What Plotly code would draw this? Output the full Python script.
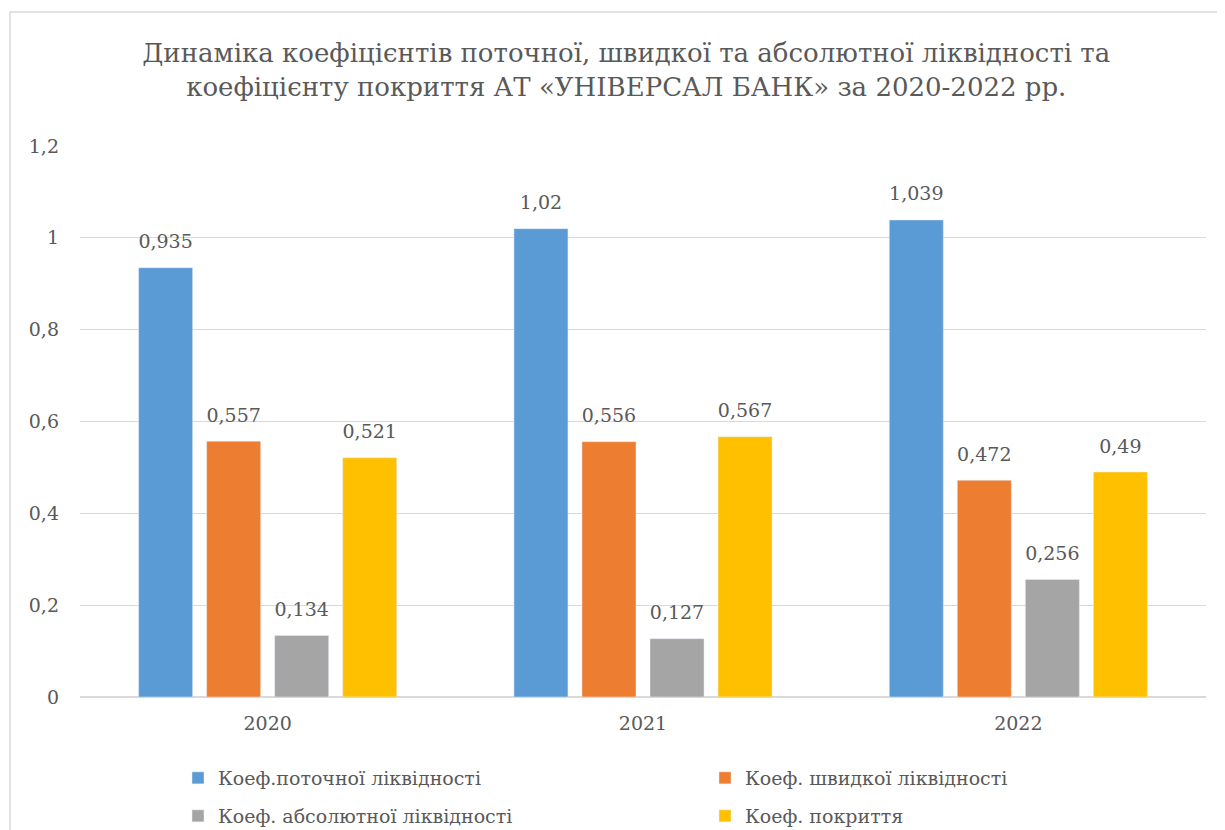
import plotly.graph_objects as go

years = ["2020", "2021", "2022"]
series_names = [
    "Коеф.поточної ліквідності",
    "Коеф. швидкої ліквідності",
    "Коеф. абсолютної ліквідності",
    "Коеф. покриття",
]
current_liq = [0.935, 1.02, 1.039]
quick_liq = [0.557, 0.556, 0.472]
absolute_liq = [0.134, 0.127, 0.256]
coverage = [0.521, 0.567, 0.49]
colors = ["#5B9BD5", "#ED7D31", "#A5A5A5", "#FFC000"]

FONT = "DejaVu Serif"
TXT = "#595959"
all_vals = [current_liq, quick_liq, absolute_liq, coverage]

fig = go.Figure()
for i, (name, vals, col) in enumerate(zip(series_names, all_vals, colors)):
    fig.add_trace(go.Bar(
        x=years, y=vals, name=name, marker_color=col,
        legend="legend" if i < 2 else "legend2",
        offsetgroup=str(i), hoverinfo="skip",
    ))
for i, vals in enumerate(all_vals):
    fig.add_trace(go.Scatter(
        x=years, y=vals, mode="markers+text", showlegend=False,
        marker=dict(size=22, opacity=0),
        text=[str(v).replace(".", ",") for v in vals],
        textposition="top center", cliponaxis=False,
        textfont=dict(family=FONT, size=19, color=TXT),
        offsetgroup=str(i), hoverinfo="skip",
    ))

OFF = 8
W, H = 1225 - OFF, 830 - OFF
L, R, T, B = 80 - OFF, 19, 146 - OFF, 133
pw, ph = W - L - R, H - T - B

def py(pix):
    return (697 - pix) / ph

leg_common = dict(orientation="h", xanchor="left", yanchor="top",
                  entrywidth=482, entrywidthmode="pixels", traceorder="normal",
                  font=dict(family=FONT, size=19, color=TXT), itemclick=False,
                  bgcolor="rgba(0,0,0,0)")

fig.update_layout(
    width=W, height=H,
    margin=dict(l=L, r=R, t=T, b=B, autoexpand=False),
    paper_bgcolor="white", plot_bgcolor="white",
    separators=", ",
    font=dict(family=FONT, size=19, color=TXT),
    barmode="group", bargap=0.275, bargroupgap=0.206,
    scattermode="group", scattergap=0.275,
    title=dict(
        text="Динаміка коефіцієнтів поточної, швидкої та абсолютної ліквідності та<br>коефіцієнту покриття АТ «УНІВЕРСАЛ БАНК» за 2020-2022 рр.",
        x=0.508, xanchor="center", y=1 - (32 - OFF + 30) / H, yanchor="top", yref="container",
        font=dict(family=FONT, size=26, color=TXT),
    ),
    yaxis=dict(range=[0, 1.2], dtick=0.2, showgrid=True, gridcolor="#D9D9D9", gridwidth=1,
               zeroline=True, zerolinecolor="#D9D9D9", showline=False,
               ticklabelstandoff=20, tickfont=dict(family=FONT, size=19, color=TXT)),
    xaxis=dict(showline=False, tickfont=dict(family=FONT, size=19, color=TXT), ticklabelstandoff=13),
    legend=dict(x=(178 - 80) / pw, y=py(759), **leg_common),
    legend2=dict(x=(178 - 80) / pw, y=py(797), **leg_common),
    shapes=[dict(type="rect", xref="paper", yref="paper",
                 x0=(10 - 80) / pw, x1=1.2, y0=-0.5, y1=(697 - 12) / ph,
                 line=dict(color="#D9D9D9", width=1.5), fillcolor="rgba(0,0,0,0)", layer="below")],
)

fig.write_html("out.html")
